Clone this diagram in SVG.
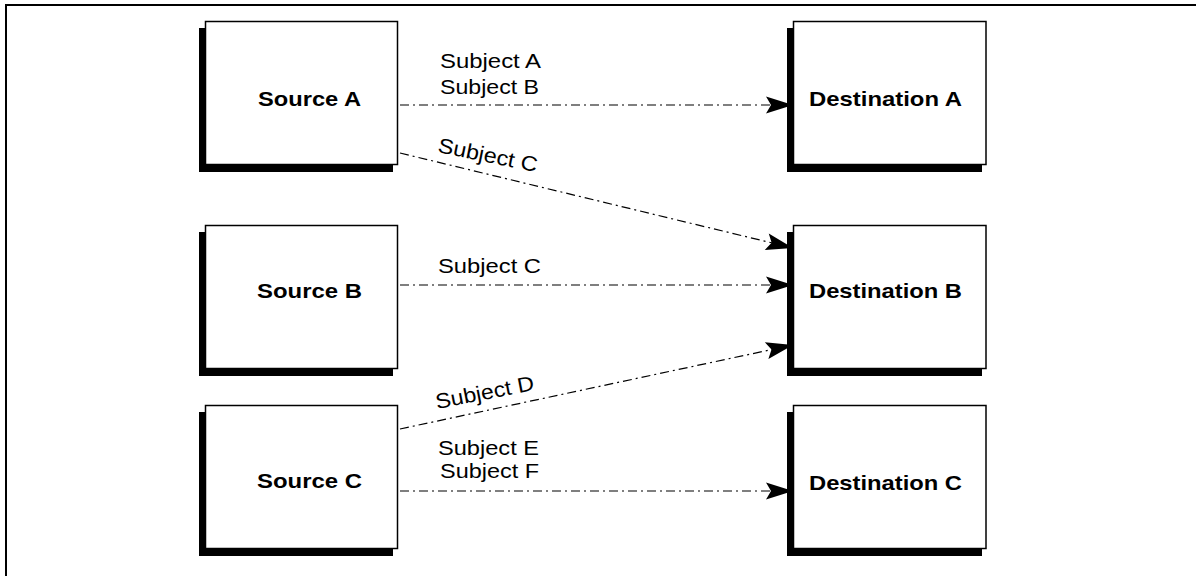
<svg xmlns="http://www.w3.org/2000/svg" width="1196" height="576" viewBox="0 0 1196 576">
<style>
.shadow{fill:#000}
.box{fill:#fff;stroke:#000;stroke-width:1.5}
.nl{font-family:"Liberation Sans",Arial,sans-serif;font-weight:bold;font-size:21px;fill:#000}
.el{font-family:"Liberation Sans",Arial,sans-serif;font-size:21px;fill:#000}
.conn{fill:none;stroke:#000;stroke-width:1.2;stroke-dasharray:9 4 2 4}
</style>
<defs>
<marker id="arr" markerUnits="userSpaceOnUse" markerWidth="30" markerHeight="20" viewBox="-28 -10 30 20" refX="0" refY="0" orient="auto">
<path d="M0,0 L-27,-8.5 L-22,0 L-27,8.5 Z" fill="#000"/>
</marker>
</defs>
<rect width="1196" height="576" fill="#fff"/>
<g id="frame">
<line x1="5" y1="5" x2="1196" y2="5" stroke="#000" stroke-width="2"/>
<line x1="6" y1="4" x2="6" y2="576" stroke="#000" stroke-width="2"/>
</g>
<g id="connectors">
<line class="conn" x1="400" y1="105" x2="793" y2="105" marker-end="url(#arr)"/>
<line class="conn" x1="400" y1="153" x2="793" y2="248" marker-end="url(#arr)"/>
<line class="conn" x1="400" y1="285" x2="793" y2="285" marker-end="url(#arr)"/>
<line class="conn" x1="400" y1="429" x2="793" y2="345" marker-end="url(#arr)"/>
<line class="conn" x1="400" y1="491" x2="793" y2="491" marker-end="url(#arr)"/>
<text class="el" x="440" y="68" textLength="101" lengthAdjust="spacingAndGlyphs">Subject A</text>
<text class="el" x="440" y="94" textLength="99" lengthAdjust="spacingAndGlyphs">Subject B</text>
<text class="el" x="0" y="0" textLength="101" lengthAdjust="spacingAndGlyphs" transform="translate(437,152) rotate(11.5)">Subject C</text>
<text class="el" x="438" y="273" textLength="103" lengthAdjust="spacingAndGlyphs">Subject C</text>
<text class="el" x="0" y="0" textLength="100" lengthAdjust="spacingAndGlyphs" transform="translate(437,409) rotate(-11)">Subject D</text>
<text class="el" x="438" y="455" textLength="101" lengthAdjust="spacingAndGlyphs">Subject E</text>
<text class="el" x="440" y="478" textLength="99" lengthAdjust="spacingAndGlyphs">Subject F</text>
</g>
<g id="sourceA">
<rect class="shadow" x="199" y="28" width="194" height="144"/>
<rect class="box" x="205.5" y="21.5" width="192" height="143"/>
<text class="nl" x="258" y="106" textLength="103" lengthAdjust="spacingAndGlyphs">Source A</text>
</g>
<g id="sourceB">
<rect class="shadow" x="199" y="232" width="194" height="144"/>
<rect class="box" x="205.5" y="225.5" width="192" height="143"/>
<text class="nl" x="257" y="298" textLength="105" lengthAdjust="spacingAndGlyphs">Source B</text>
</g>
<g id="sourceC">
<rect class="shadow" x="199" y="412" width="194" height="144"/>
<rect class="box" x="205.5" y="405.5" width="192" height="143"/>
<text class="nl" x="257" y="488" textLength="105" lengthAdjust="spacingAndGlyphs">Source C</text>
</g>
<g id="destA">
<rect class="shadow" x="787" y="28" width="195" height="144"/>
<rect class="box" x="793.5" y="21.5" width="192.5" height="143"/>
<text class="nl" x="809" y="106" textLength="153" lengthAdjust="spacingAndGlyphs">Destination A</text>
</g>
<g id="destB">
<rect class="shadow" x="787" y="232" width="195" height="144"/>
<rect class="box" x="793.5" y="225.5" width="192.5" height="143"/>
<text class="nl" x="809" y="298" textLength="153" lengthAdjust="spacingAndGlyphs">Destination B</text>
</g>
<g id="destC">
<rect class="shadow" x="787" y="412" width="195" height="144"/>
<rect class="box" x="793.5" y="405.5" width="192.5" height="143"/>
<text class="nl" x="809" y="490" textLength="153" lengthAdjust="spacingAndGlyphs">Destination C</text>
</g>
</svg>
